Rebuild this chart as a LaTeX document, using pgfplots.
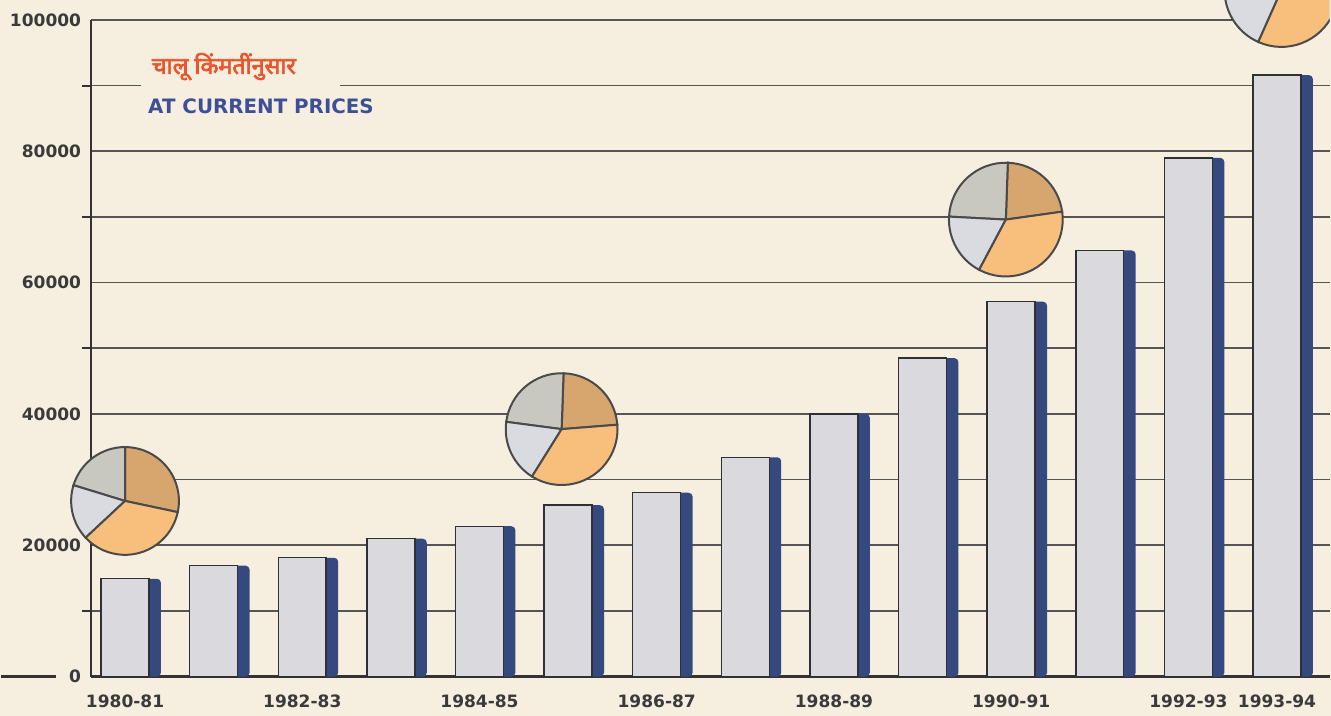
\documentclass[border=0pt]{standalone}
\usepackage{fontspec}
\setmainfont{DejaVu Sans}
\newfontfamily\deva[Script=Devanagari,FakeBold=3]{Noto Sans}
\usepackage{xcolor}
\usepackage{pgfplots}
\usepackage{pgfplotstable}
\pgfplotsset{compat=1.18}

\definecolor{bgcream}{HTML}{F6EFE0}
\definecolor{barfront}{HTML}{D9D9DE}
\definecolor{baredge}{HTML}{2F2F35}
\definecolor{barside}{HTML}{36497F}
\definecolor{axisdark}{HTML}{333333}
\definecolor{labelgray}{HTML}{3A3A3A}
\definecolor{gridgray}{HTML}{555555}
\definecolor{titlered}{HTML}{E9562D}
\definecolor{titleblue}{HTML}{3D4F96}
\definecolor{pietan}{HTML}{D7A56E}
\definecolor{piegray}{HTML}{C9C8C0}
\definecolor{pieblue}{HTML}{D9DBE1}
\definecolor{pieorange}{HTML}{F8BF7C}
\definecolor{pieline}{HTML}{4A4A4A}

\pagecolor{bgcream}

% value per year, 1980-81 .. 1993-94
\pgfplotstableread{
idx value
0  14900
1  16900
2  18100
3  21000
4  22900
5  26100
6  28000
7  33400
8  40000
9  48500
10 57100
11 64900
12 79000
13 91600
}\gdpdata

% #1 centre, #2 radius, #3..#6 slice borders (right, top, left, lower left)
\newcommand{\piechart}[6]{%
  \filldraw[draw=pieline, line width=1.5pt, fill=pietan] (#1) -- ++(#3:#2) arc[start angle=#3, end angle=#4, radius=#2] -- cycle;
  \filldraw[draw=pieline, line width=1.5pt, fill=piegray] (#1) -- ++(#4:#2) arc[start angle=#4, end angle=#5, radius=#2] -- cycle;
  \filldraw[draw=pieline, line width=1.5pt, fill=pieblue] (#1) -- ++(#5:#2) arc[start angle=#5, end angle=#6, radius=#2] -- cycle;
  \filldraw[draw=pieline, line width=1.5pt, fill=pieorange] (#1) -- ++(#6:#2) arc[start angle=#6, end angle={360+(#3)}, radius=#2] -- cycle;
}

\begin{document}
\begin{tikzpicture}
\begin{axis}[
  width=930.75pt, height=493.5pt, scale only axis,
  xmin=-0.383, xmax=13.593,
  ymin=0, ymax=100000,
  clip=false,
  axis x line*=bottom, axis y line*=left,
  x axis line style={line width=2.2pt, color=axisdark, -},
  y axis line style={line width=1.8pt, color=axisdark, -},
  ytick={0,20000,40000,60000,80000,100000},
  yticklabels={0,20000,40000,60000,80000,100000},
  minor ytick={10000,30000,50000,70000,90000},
  ymajorgrids, yminorgrids,
  major grid style={line width=1.2pt, color=gridgray},
  minor grid style={line width=1.2pt, color=gridgray},
  tick align=outside,
  major tick length=0pt, minor tick length=7pt,
  tick style={line width=1.5pt, color=axisdark},
  xtick={0,2,4,6,8,10,12,13},
  xticklabels={1980-81,1982-83,1984-85,1986-87,1988-89,1990-91,1992-93,1993-94},
  xtick style={draw=none},
  scaled y ticks=false,
  ticklabel style={font=\fontsize{12.8}{14}\selectfont\bfseries, text=labelgray},
  yticklabel style={xshift=-4pt},
  xticklabel style={yshift=-10pt},
  ybar, bar width=36pt,
]
\addplot[ybar, bar shift=9pt, fill=barside, draw=none, rounded corners=3pt]
  table[x=idx, y=value] {\gdpdata};
\addplot[ybar, bar shift=0pt, fill=barfront, draw=baredge, line width=1.1pt]
  table[x=idx, y=value] {\gdpdata};

% line continuing the base to the left edge
\draw[axisdark, line width=2pt] (axis cs:-1.396,0) -- (axis cs:-0.777,0);
% bottom margin of the picture
\path (axis cs:0,-5930);

% title
\fill[bgcream] (axis cs:0.18,88500) rectangle (axis cs:2.43,91800);
\node[anchor=west, inner sep=0pt, text=titlered, font=\deva\fontsize{17.5}{20}\selectfont]
  at (axis cs:0.30,92900) {चालू किंमतींनुसार};
\node[anchor=west, inner sep=0pt, text=titleblue, font=\fontsize{14.9}{17}\selectfont\bfseries]
  at (axis cs:0.259,86780) {AT CURRENT PRICES};

% pies
\piechart{axis cs:0,26750}{40.5pt}{-12}{90}{163}{223}
\piechart{axis cs:4.927,37690}{42pt}{4.5}{88}{172.5}{238}
\piechart{axis cs:9.94,69600}{42.75pt}{8}{88}{177}{242}
\begin{scope}
  \clip (axis cs:12.3,90000) rectangle (axis cs:13.593,103040);
  \piechart{axis cs:13.05,104560}{42.75pt}{8}{88}{177}{246}
\end{scope}
\end{axis}
\end{tikzpicture}
\end{document}
